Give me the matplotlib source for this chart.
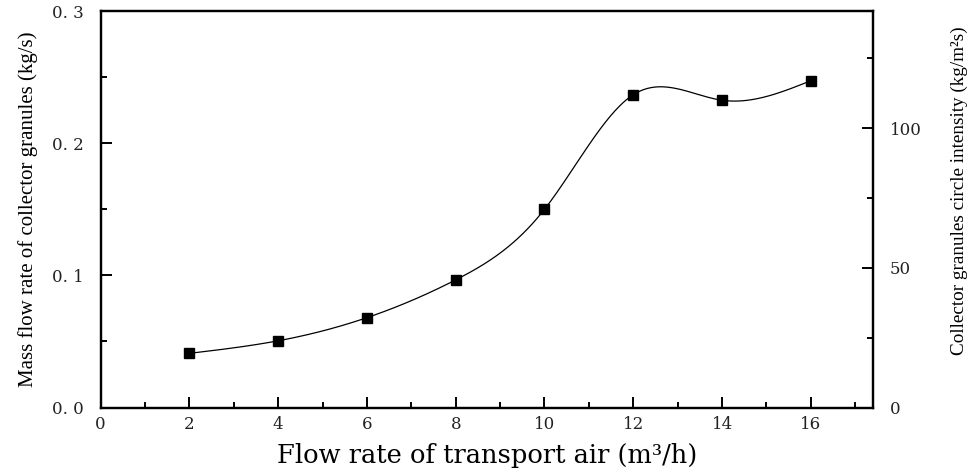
import numpy as np
import matplotlib
matplotlib.use("Agg")
import matplotlib.pyplot as plt
from matplotlib.ticker import MultipleLocator, FuncFormatter

# values
air_flow = [2, 4, 6, 8, 10, 12, 14, 16]
mass_flow = [0.041, 0.0505, 0.068, 0.0966, 0.150, 0.2367, 0.2325, 0.2473]


def natural_spline(x, y, n=400):
    # plain natural cubic spline, no scipy here
    x = np.asarray(x, float)
    y = np.asarray(y, float)
    k = len(x)
    h = np.diff(x)
    A = np.zeros((k, k))
    b = np.zeros(k)
    A[0, 0] = A[-1, -1] = 1
    for i in range(1, k - 1):
        A[i, i - 1] = h[i - 1]
        A[i, i] = 2 * (h[i - 1] + h[i])
        A[i, i + 1] = h[i]
        b[i] = 6 * ((y[i + 1] - y[i]) / h[i] - (y[i] - y[i - 1]) / h[i - 1])
    M = np.linalg.solve(A, b)
    xs = np.linspace(x[0], x[-1], n)
    idx = np.clip(np.searchsorted(x, xs) - 1, 0, k - 2)
    x0, x1 = x[idx], x[idx + 1]
    hh = x1 - x0
    t0, t1 = x1 - xs, xs - x0
    ys = (M[idx] * t0 ** 3 + M[idx + 1] * t1 ** 3) / (6 * hh) \
        + (y[idx] / hh - M[idx] * hh / 6) * t0 \
        + (y[idx + 1] / hh - M[idx + 1] * hh / 6) * t1
    return xs, ys


plt.rcParams["font.family"] = ["DejaVu Serif"]
label_font = ["Liberation Serif", "DejaVu Serif"]

fig = plt.figure(figsize=(9.72, 4.69), dpi=100)
ax = fig.add_axes([0.1034, 0.131, 0.7948, 0.8455])

xs, ys = natural_spline(air_flow, mass_flow)
ax.plot(xs, ys, color="black", lw=0.9)
ax.plot(air_flow, mass_flow, ls="none", marker="s", ms=7.5, mfc="black", mec="black")

ax.set_xlim(0, 17.4)
ax.set_ylim(0, 0.3)
ax.xaxis.set_major_locator(MultipleLocator(2))
ax.xaxis.set_minor_locator(MultipleLocator(1))
ax.yaxis.set_major_locator(MultipleLocator(0.1))
ax.yaxis.set_minor_locator(MultipleLocator(0.05))
ax.yaxis.set_major_formatter(FuncFormatter(lambda v, p: f"{v:.1f}".replace(".", ". ")))

for s in ax.spines.values():
    s.set_linewidth(1.6)

ax.tick_params(which="both", direction="in", top=False, right=False, width=1.4,
               labelsize=12, labelcolor="#222222")
ax.tick_params(which="major", length=8)
ax.tick_params(which="minor", length=4)
ax.tick_params(axis="x", pad=6)
ax.tick_params(axis="y", pad=12)

ax.set_xlabel("Flow rate of transport air (m³/h)", fontsize=18.5, va="center")
ax.xaxis.set_label_coords(0.5, -0.122)
ax.set_ylabel("Mass flow rate of collector granules (kg/s)", fontsize=15,
              family=label_font, labelpad=10)

ax2 = ax.twinx()
ax2.set_ylim(0, 142)
ax2.yaxis.set_major_locator(MultipleLocator(50))
ax2.yaxis.set_minor_locator(MultipleLocator(25))
ax2.tick_params(which="both", direction="in", width=1.4, labelsize=12, pad=12,
                labelcolor="#222222")
ax2.tick_params(which="major", length=8)
ax2.tick_params(which="minor", length=4)
for s in ax2.spines.values():
    s.set_linewidth(1.6)
ax2.set_ylabel("Collector granules circle intensity (kg/m²s)", fontsize=13.8,
               family=label_font, va="center")
ax2.yaxis.set_label_coords(1.112, 0.546)

fig.savefig("out.png", dpi=100)
